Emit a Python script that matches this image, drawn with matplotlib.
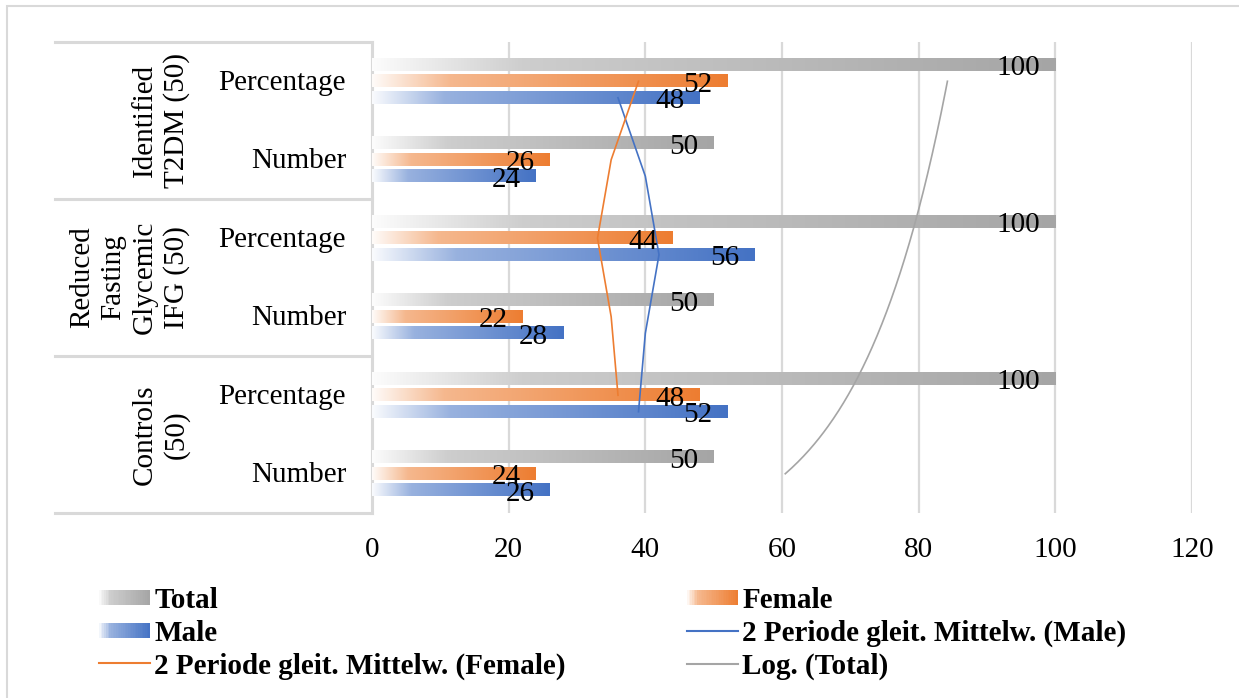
import numpy as np
import matplotlib
matplotlib.use("Agg")
import matplotlib.pyplot as plt
from matplotlib.colors import LinearSegmentedColormap, to_rgb
from matplotlib.patches import Rectangle
from matplotlib.lines import Line2D
from matplotlib.legend_handler import HandlerBase
import matplotlib.transforms as mtransforms

# ---------------- data ----------------
groups = ["Controls\n(50)", "Reduced\nFasting\nGlycemic\nIFG (50)", "Identified\nT2DM (50)"]
subcats = ["Number", "Percentage", "Number", "Percentage", "Number", "Percentage"]
total = [50, 100, 50, 100, 50, 100]
female = [24, 48, 22, 44, 26, 52]
male = [26, 52, 28, 56, 24, 48]
xticks = [0, 20, 40, 60, 80, 100, 120]

C_TOTAL = "#a5a5a5"
C_FEMALE = "#ed7d31"
C_MALE = "#4472c4"
GRID = "#d9d9d9"

plt.rcParams['font.family'] = ['Liberation Serif', 'DejaVu Serif']
FS = 21

W, H = 1239, 698
fig = plt.figure(figsize=(W / 100, H / 100), dpi=100)

def fx(px):
    return px / W

def fy(py):
    return 1 - py / H

ax_left, ax_right, ax_top, ax_bot = 372, 1192, 42, 513
ax = fig.add_axes([fx(ax_left), fy(ax_bot), fx(ax_right - ax_left), (ax_bot - ax_top) / H])
ax.set_xlim(0, 120)
ax.set_ylim(-0.5, 5.5)
for s in ax.spines.values():
    s.set_visible(False)

# gridlines
for t in xticks:
    if t == 0:
        continue
    ax.axvline(t, color=GRID, lw=1.6, zorder=0)

def grad_cmap(color):
    c = np.array(to_rgb(color))
    w = np.ones(3)
    tint = 0.45 * w + 0.55 * c
    start = 0.03 * c + 0.97 * w
    return LinearSegmentedColormap.from_list("g", [(0, start), (0.22, tint), (1, c)])

cmaps = {"Total": grad_cmap(C_TOTAL), "Female": grad_cmap(C_FEMALE), "Male": grad_cmap(C_MALE)}
grad = np.linspace(0, 1, 256).reshape(1, -1)

OFF = 0.21
BH = 0.155
series = [("Total", total, OFF), ("Female", female, 0.0), ("Male", male, -OFF)]
ypos = np.arange(len(subcats))
for name, vals, off in series:
    for i, v in enumerate(vals):
        y = ypos[i] + off
        ax.imshow(grad, cmap=cmaps[name], extent=[0, v, y - BH / 2, y + BH / 2],
                  aspect='auto', interpolation='bilinear', zorder=2)

ax.set_xlim(0, 120)
ax.set_ylim(-0.5, 5.5)

# moving averages (2 period) and log trend
male_arr = np.array(male, float)
female_arr = np.array(female, float)
total_arr = np.array(total, float)
ma_male = (male_arr[:-1] + male_arr[1:]) / 2
ma_female = (female_arr[:-1] + female_arr[1:]) / 2
ax.plot(ma_male, ypos[1:] - OFF, color=C_MALE, lw=1.2, zorder=3)
ax.plot(ma_female, ypos[1:], color=C_FEMALE, lw=1.2, zorder=3)
xi = np.arange(1, len(total) + 1)
a, b = np.polyfit(np.log(xi), total_arr, 1)
tt = np.linspace(1, len(total), 200)
ax.plot(a * np.log(tt) + b, tt - 1, color=C_TOTAL, lw=1.2, zorder=3)

# data labels
for name, vals, off in series:
    for i, v in enumerate(vals):
        ax.annotate(str(v), xy=(v, ypos[i] + off), xytext=(-15 * 0.72, -0.4),
                    textcoords='offset points', ha='right', va='center_baseline',
                    fontsize=FS, color='black', zorder=5)

# x ticks
ax.set_xticks(xticks)
ax.set_xticklabels([str(t) for t in xticks], fontsize=FS)
ax.tick_params(axis='x', length=0, pad=17)
ax.set_yticks([])

# category table on left
trans = mtransforms.blended_transform_factory(ax.transAxes, ax.transData)
x_table_left = (55 - ax_left) / (ax_right - ax_left)
for yb in [-0.5, 1.5, 3.5, 5.5]:
    ax.add_line(Line2D([x_table_left, 0], [yb, yb], transform=trans, color=GRID,
                       lw=2.2, clip_on=False, zorder=1))
ax.add_line(Line2D([0, 0], [-0.5, 5.5], transform=trans, color=GRID, lw=2.2,
                   clip_on=False, zorder=1))

x_sub = (346 - ax_left) / (ax_right - ax_left)
for i, lab in enumerate(subcats):
    ax.text(x_sub, ypos[i] - 0.02, lab, transform=trans, ha='right', va='center',
            fontsize=FS, clip_on=False)

x_grp = (190 - ax_left) / (ax_right - ax_left)
for g, lab in enumerate(groups):
    ax.text(x_grp, 2 * g + 0.5, lab, transform=trans, ha='right', va='center',
            rotation=90, multialignment='center', fontsize=FS, clip_on=False,
            linespacing=1.27)

# outer frame
fig.patches.append(Rectangle((fx(7), fy(H + 10)), fx(W + 20), fy(6) - fy(H + 10),
                             transform=fig.transFigure, fill=False, edgecolor=GRID,
                             lw=1.5))

# legend
class GradHandler(HandlerBase):
    def __init__(self, cmap):
        super().__init__()
        self.cmap = cmap

    def create_artists(self, legend, orig_handle, xdescent, ydescent, width, height,
                       fontsize, trans):
        arts = []
        n = 30
        h = height * 0.75
        y0 = -ydescent + (height - h) / 2
        for k in range(n):
            r = Rectangle((-xdescent + width * k / n, y0), width / n + 0.3, h,
                          facecolor=self.cmap((k + 0.5) / n), edgecolor='none',
                          transform=trans)
            arts.append(r)
        return arts

h_total = Rectangle((0, 0), 1, 1)
h_female = Rectangle((0, 0), 1, 1)
h_male = Rectangle((0, 0), 1, 1)
h_mam = Line2D([], [], color=C_MALE, lw=1.5)
h_maf = Line2D([], [], color=C_FEMALE, lw=1.5)
h_log = Line2D([], [], color=C_TOTAL, lw=1.5)

handles = [h_total, h_male, h_maf, h_female, h_mam, h_log]
labels = ["Total", "Male", "2 Periode gleit. Mittelw. (Female)",
          "Female", "2 Periode gleit. Mittelw. (Male)", "Log. (Total)"]
leg = fig.legend(handles, labels, ncol=2, loc='upper left',
                 bbox_to_anchor=(fx(99), fy(587)), frameon=False,
                 prop={'family': 'Liberation Serif', 'weight': 'bold', 'size': FS},
                 handlelength=1.75, handletextpad=0.15, columnspacing=4.15,
                 labelspacing=0.2, borderpad=0, borderaxespad=0,
                 handler_map={h_total: GradHandler(cmaps["Total"]),
                              h_female: GradHandler(cmaps["Female"]),
                              h_male: GradHandler(cmaps["Male"])})

fig.savefig("out.png", dpi=100, facecolor='white')
